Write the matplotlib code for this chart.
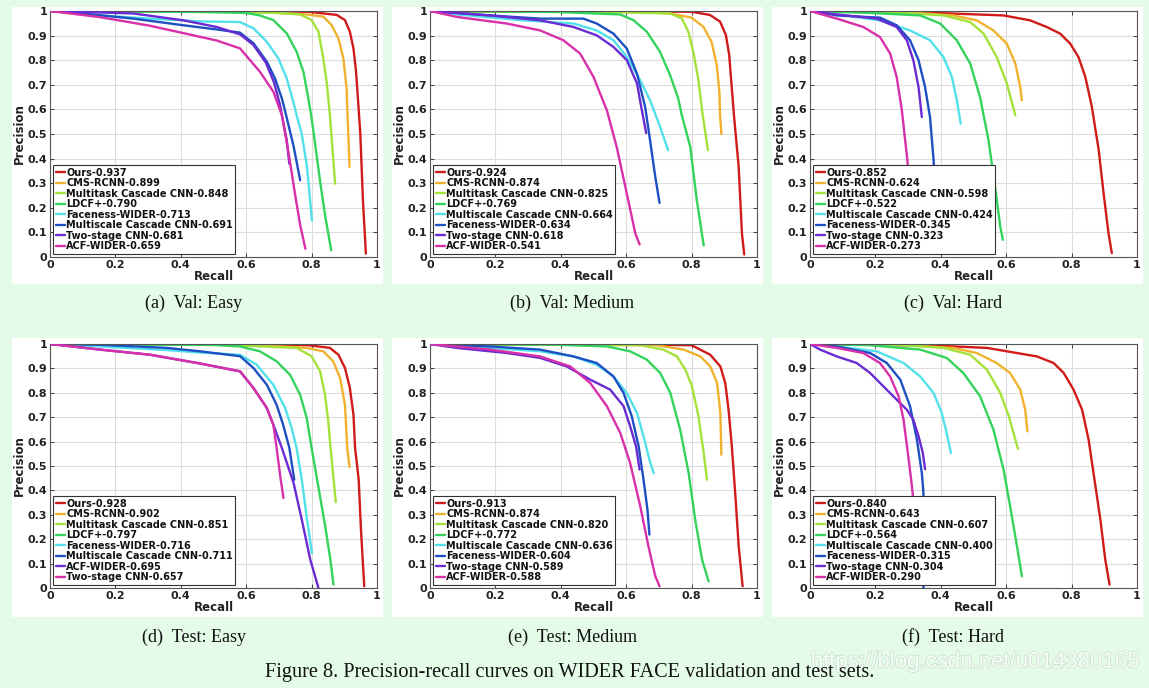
import matplotlib
matplotlib.use("Agg")
import matplotlib.pyplot as plt
from matplotlib.ticker import FuncFormatter, MultipleLocator
from matplotlib.patches import Rectangle
import matplotlib.patheffects as pe

BG = "#e4fbe8"
COLORS = ["#d11a1a", "#f0b22e", "#a4e23a", "#33d35c", "#52e0ea", "#1d4fc2", "#6a2bd2", "#d830a8"]

# ---------------- (a) Val: Easy ----------------
ve_labels = ["Ours-0.937", "CMS-RCNN-0.899", "Multitask Cascade CNN-0.848", "LDCF+-0.790",
             "Faceness-WIDER-0.713", "Multiscale Cascade CNN-0.691", "Two-stage CNN-0.681", "ACF-WIDER-0.659"]
ve_ours = [(0, 1), (0.6, 0.999), (0.79, 0.997), (0.877, 0.984), (0.902, 0.963), (0.917, 0.916), (0.928, 0.848),
           (0.936, 0.753), (0.943, 0.618), (0.949, 0.50), (0.957, 0.23), (0.966, 0.014)]
ve_cms = [(0, 1), (0.6, 0.998), (0.785, 0.986), (0.836, 0.977), (0.861, 0.943), (0.882, 0.889),
          (0.897, 0.808), (0.907, 0.686), (0.91, 0.577), (0.916, 0.366)]
ve_mtcnn = [(0, 1), (0.5, 0.998), (0.7, 0.992), (0.765, 0.986), (0.80, 0.963), (0.821, 0.916),
            (0.834, 0.821), (0.846, 0.713), (0.856, 0.577), (0.872, 0.298)]
ve_ldcf = [(0, 1), (0.459, 0.996), (0.6, 0.992), (0.642, 0.982), (0.683, 0.963), (0.724, 0.909),
           (0.754, 0.835), (0.775, 0.753), (0.79, 0.645), (0.801, 0.556), (0.827, 0.298), (0.842, 0.163),
           (0.86, 0.027)]
ve_faceness = [(0, 1), (0.153, 0.982), (0.306, 0.969), (0.459, 0.958), (0.581, 0.955), (0.622, 0.93),
               (0.663, 0.875), (0.698, 0.808), (0.724, 0.726), (0.744, 0.631), (0.754, 0.577), (0.77, 0.50),
               (0.786, 0.366), (0.801, 0.149)]
ve_multiscale = [(0, 1), (0.1, 0.99), (0.255, 0.969), (0.408, 0.942), (0.51, 0.925), (0.581, 0.912),
                 (0.622, 0.869), (0.663, 0.794), (0.688, 0.726), (0.709, 0.645), (0.722, 0.577),
                 (0.745, 0.45), (0.765, 0.312)]
ve_twostage = [(0, 1), (0.255, 0.99), (0.408, 0.962), (0.51, 0.935), (0.581, 0.905), (0.622, 0.862),
               (0.66, 0.79), (0.685, 0.71), (0.703, 0.62), (0.716, 0.53), (0.724, 0.474), (0.732, 0.379)]
ve_acf = [(0, 1), (0.153, 0.975), (0.306, 0.94), (0.408, 0.91), (0.51, 0.88), (0.581, 0.848),
          (0.642, 0.753), (0.683, 0.672), (0.709, 0.577), (0.73, 0.42), (0.75, 0.25), (0.765, 0.13),
          (0.781, 0.034)]

# ---------------- (b) Val: Medium ----------------
vm_labels = ["Ours-0.924", "CMS-RCNN-0.874", "Multitask Cascade CNN-0.825", "LDCF+-0.769",
             "Multiscale Cascade CNN-0.664", "Faceness-WIDER-0.634", "Two-stage CNN-0.618", "ACF-WIDER-0.541"]
vm_ours = [(0, 1), (0.6, 0.999), (0.8, 0.997), (0.856, 0.984), (0.887, 0.957), (0.905, 0.902),
           (0.915, 0.821), (0.923, 0.686), (0.93, 0.569), (0.944, 0.366), (0.954, 0.095), (0.961, 0.01)]
vm_cms = [(0, 1), (0.6, 0.997), (0.734, 0.99), (0.80, 0.973), (0.836, 0.936), (0.861, 0.875),
          (0.877, 0.78), (0.885, 0.672), (0.887, 0.577), (0.891, 0.50)]
vm_mtcnn = [(0, 1), (0.5, 0.997), (0.734, 0.99), (0.77, 0.97), (0.79, 0.916), (0.805, 0.835),
            (0.82, 0.726), (0.834, 0.577), (0.85, 0.434)]
vm_ldcf = [(0, 1), (0.388, 0.996), (0.581, 0.986), (0.622, 0.963), (0.663, 0.916), (0.703, 0.835),
           (0.734, 0.74), (0.759, 0.645), (0.77, 0.577), (0.796, 0.447), (0.816, 0.23), (0.837, 0.047)]
vm_multiscale = [(0, 1), (0.082, 0.986), (0.286, 0.962), (0.439, 0.949), (0.51, 0.921), (0.561, 0.881),
                 (0.602, 0.813), (0.643, 0.718), (0.673, 0.637), (0.704, 0.528), (0.728, 0.434)]
vm_faceness = [(0, 1), (0.184, 0.982), (0.337, 0.969), (0.469, 0.969), (0.51, 0.949), (0.561, 0.908),
               (0.602, 0.847), (0.633, 0.745), (0.658, 0.61), (0.673, 0.474), (0.689, 0.325), (0.702, 0.22)]
vm_twostage = [(0, 1), (0.184, 0.982), (0.337, 0.962), (0.439, 0.935), (0.51, 0.901), (0.561, 0.854),
               (0.602, 0.80), (0.633, 0.705), (0.648, 0.596), (0.661, 0.504)]
vm_acf = [(0, 1), (0.082, 0.976), (0.235, 0.949), (0.337, 0.921), (0.408, 0.881), (0.459, 0.827),
          (0.5, 0.732), (0.541, 0.596), (0.571, 0.447), (0.602, 0.257), (0.628, 0.095), (0.641, 0.051)]

# ---------------- (c) Val: Hard ----------------
vh_labels = ["Ours-0.852", "CMS-RCNN-0.624", "Multitask Cascade CNN-0.598", "LDCF+-0.522",
             "Multiscale Cascade CNN-0.424", "Faceness-WIDER-0.345", "Two-stage CNN-0.323", "ACF-WIDER-0.273"]
vh_ours = [(0, 1), (0.184, 0.996), (0.388, 0.992), (0.592, 0.982), (0.673, 0.962), (0.724, 0.935),
           (0.765, 0.908), (0.796, 0.867), (0.821, 0.813), (0.842, 0.732), (0.862, 0.61), (0.883, 0.434),
           (0.898, 0.257), (0.913, 0.095), (0.923, 0.016)]
vh_cms = [(0, 1), (0.286, 0.996), (0.439, 0.982), (0.51, 0.962), (0.561, 0.921), (0.602, 0.867),
          (0.628, 0.786), (0.643, 0.69), (0.648, 0.637)]
vh_mtcnn = [(0, 1), (0.286, 0.992), (0.408, 0.982), (0.49, 0.955), (0.531, 0.908), (0.571, 0.813),
            (0.602, 0.705), (0.628, 0.576)]
vh_ldcf = [(0, 1), (0.184, 0.992), (0.337, 0.982), (0.398, 0.949), (0.449, 0.881), (0.49, 0.786),
           (0.52, 0.65), (0.546, 0.474), (0.566, 0.285), (0.582, 0.122), (0.59, 0.07)]
vh_multiscale = [(0, 1), (0.082, 0.986), (0.214, 0.962), (0.306, 0.921), (0.367, 0.881), (0.408, 0.813),
                 (0.434, 0.732), (0.449, 0.637), (0.461, 0.542)]
vh_faceness = [(0, 1), (0.082, 0.982), (0.214, 0.973), (0.265, 0.942), (0.306, 0.881), (0.332, 0.80),
               (0.352, 0.69), (0.367, 0.569), (0.378, 0.393), (0.386, 0.2)]
vh_twostage = [(0, 1), (0.082, 0.986), (0.204, 0.969), (0.265, 0.935), (0.296, 0.881), (0.316, 0.80),
               (0.332, 0.69), (0.342, 0.569)]
vh_acf = [(0, 1), (0.082, 0.969), (0.163, 0.935), (0.214, 0.894), (0.245, 0.827), (0.265, 0.732),
          (0.281, 0.596), (0.291, 0.474), (0.298, 0.393), (0.305, 0.2)]

# ---------------- (d) Test: Easy ----------------
te_labels = ["Ours-0.928", "CMS-RCNN-0.902", "Multitask Cascade CNN-0.851", "LDCF+-0.797",
             "Faceness-WIDER-0.716", "Multiscale Cascade CNN-0.711", "ACF-WIDER-0.695", "Two-stage CNN-0.657"]
te_ours = [(0, 1), (0.6, 0.999), (0.79, 0.995), (0.856, 0.984), (0.882, 0.956), (0.902, 0.902),
           (0.917, 0.82), (0.928, 0.71), (0.933, 0.574), (0.944, 0.444), (0.951, 0.239), (0.961, 0.007)]
te_cms = [(0, 1), (0.6, 0.998), (0.785, 0.984), (0.836, 0.97), (0.866, 0.929), (0.887, 0.861),
          (0.902, 0.751), (0.909, 0.574), (0.916, 0.496)]
te_mtcnn = [(0, 1), (0.5, 0.998), (0.754, 0.984), (0.80, 0.95), (0.826, 0.888), (0.841, 0.792),
            (0.851, 0.683), (0.858, 0.574), (0.874, 0.352)]
te_ldcf = [(0, 1), (0.5, 0.996), (0.581, 0.99), (0.642, 0.97), (0.693, 0.929), (0.734, 0.874),
           (0.765, 0.792), (0.785, 0.697), (0.80, 0.574), (0.82, 0.42), (0.842, 0.25), (0.857, 0.12),
           (0.867, 0.014)]
te_faceness = [(0, 1), (0.153, 0.99), (0.357, 0.975), (0.459, 0.965), (0.581, 0.956), (0.632, 0.915),
               (0.683, 0.833), (0.719, 0.738), (0.739, 0.656), (0.754, 0.574), (0.77, 0.444), (0.786, 0.28),
               (0.801, 0.143)]
te_multiscale = [(0, 1), (0.153, 0.997), (0.357, 0.984), (0.459, 0.97), (0.581, 0.95), (0.622, 0.902),
                 (0.663, 0.833), (0.693, 0.751), (0.713, 0.669), (0.732, 0.574), (0.747, 0.444)]
te_acf = [(0, 1), (0.153, 0.977), (0.306, 0.956), (0.459, 0.92), (0.581, 0.888), (0.622, 0.82),
          (0.663, 0.738), (0.683, 0.669), (0.709, 0.574), (0.745, 0.43), (0.77, 0.28), (0.796, 0.116),
          (0.821, 0.0)]
te_twostage = [(0, 1), (0.153, 0.977), (0.306, 0.956), (0.459, 0.92), (0.581, 0.888), (0.622, 0.82),
               (0.663, 0.738), (0.683, 0.669), (0.693, 0.574), (0.705, 0.45), (0.714, 0.369)]

# ---------------- (e) Test: Medium ----------------
tm_labels = ["Ours-0.913", "CMS-RCNN-0.874", "Multitask Cascade CNN-0.820", "LDCF+-0.772",
             "Multiscale Cascade CNN-0.636", "Faceness-WIDER-0.604", "Two-stage CNN-0.589", "ACF-WIDER-0.588"]
tm_ours = [(0, 1), (0.6, 0.998), (0.8, 0.995), (0.816, 0.984), (0.857, 0.956), (0.888, 0.908),
           (0.903, 0.84), (0.913, 0.731), (0.923, 0.581), (0.934, 0.376), (0.944, 0.171), (0.956, 0.007)]
tm_cms = [(0, 1), (0.694, 0.995), (0.776, 0.977), (0.827, 0.949), (0.857, 0.908), (0.878, 0.84),
          (0.888, 0.717), (0.891, 0.546)]
tm_mtcnn = [(0, 1), (0.643, 0.995), (0.714, 0.977), (0.755, 0.949), (0.781, 0.895), (0.801, 0.827),
            (0.821, 0.704), (0.837, 0.553), (0.847, 0.444)]
tm_ldcf = [(0, 1), (0.388, 0.997), (0.541, 0.99), (0.612, 0.97), (0.663, 0.936), (0.704, 0.881),
           (0.735, 0.799), (0.765, 0.649), (0.791, 0.471), (0.811, 0.28), (0.832, 0.116), (0.852, 0.027)]
tm_multiscale = [(0, 1), (0.184, 0.984), (0.337, 0.97), (0.439, 0.949), (0.51, 0.915), (0.561, 0.867),
                 (0.602, 0.799), (0.633, 0.717), (0.653, 0.622), (0.671, 0.526), (0.684, 0.471)]
tm_faceness = [(0, 1), (0.184, 0.99), (0.337, 0.977), (0.439, 0.949), (0.51, 0.922), (0.561, 0.867),
               (0.592, 0.799), (0.617, 0.704), (0.638, 0.581), (0.653, 0.444), (0.665, 0.321), (0.671, 0.219)]
tm_twostage = [(0, 1), (0.082, 0.984), (0.235, 0.963), (0.337, 0.943), (0.418, 0.908), (0.49, 0.854),
               (0.551, 0.813), (0.592, 0.745), (0.612, 0.663), (0.63, 0.581), (0.641, 0.485)]
tm_acf = [(0, 1), (0.184, 0.977), (0.337, 0.949), (0.429, 0.908), (0.49, 0.84), (0.541, 0.745),
          (0.582, 0.635), (0.612, 0.512), (0.643, 0.335), (0.668, 0.171), (0.689, 0.048), (0.702, 0.007)]

# ---------------- (f) Test: Hard ----------------
th_labels = ["Ours-0.840", "CMS-RCNN-0.643", "Multitask Cascade CNN-0.607", "LDCF+-0.564",
             "Multiscale Cascade CNN-0.400", "Faceness-WIDER-0.315", "Two-stage CNN-0.304", "ACF-WIDER-0.290"]
th_ours = [(0, 1), (0.184, 0.997), (0.388, 0.993), (0.541, 0.984), (0.633, 0.963), (0.694, 0.949),
           (0.745, 0.922), (0.776, 0.881), (0.806, 0.813), (0.832, 0.731), (0.852, 0.608), (0.867, 0.471),
           (0.888, 0.28), (0.903, 0.116), (0.916, 0.014)]
th_cms = [(0, 1), (0.286, 0.995), (0.439, 0.984), (0.51, 0.963), (0.571, 0.922), (0.612, 0.881),
          (0.643, 0.813), (0.658, 0.731), (0.665, 0.642)]
th_mtcnn = [(0, 1), (0.286, 0.995), (0.408, 0.984), (0.49, 0.956), (0.541, 0.895), (0.582, 0.799),
            (0.608, 0.704), (0.628, 0.608), (0.636, 0.57)]
th_ldcf = [(0, 1), (0.184, 0.995), (0.337, 0.977), (0.418, 0.943), (0.469, 0.881), (0.52, 0.786),
           (0.561, 0.649), (0.592, 0.485), (0.612, 0.335), (0.633, 0.171), (0.648, 0.048)]
th_multiscale = [(0, 1), (0.082, 0.99), (0.204, 0.97), (0.286, 0.922), (0.337, 0.867), (0.378, 0.799),
                 (0.403, 0.717), (0.418, 0.635), (0.431, 0.553)]
th_faceness = [(0, 1), (0.082, 0.99), (0.184, 0.963), (0.235, 0.922), (0.276, 0.854), (0.306, 0.745),
               (0.327, 0.608), (0.342, 0.471), (0.347, 0.389), (0.347, 0.0)]
th_twostage = [(0, 1), (0.031, 0.977), (0.082, 0.949), (0.143, 0.922), (0.184, 0.881), (0.224, 0.827),
               (0.265, 0.772), (0.296, 0.731), (0.316, 0.69), (0.332, 0.622), (0.345, 0.553), (0.352, 0.487)]
th_acf = [(0, 1), (0.082, 0.984), (0.163, 0.963), (0.214, 0.922), (0.245, 0.867), (0.271, 0.786),
          (0.286, 0.69), (0.298, 0.567), (0.308, 0.458), (0.314, 0.389), (0.32, 0.2)]

PANELS = [
    ("(a)  Val: Easy", ve_labels, [ve_ours, ve_cms, ve_mtcnn, ve_ldcf, ve_faceness, ve_multiscale, ve_twostage, ve_acf]),
    ("(b)  Val: Medium", vm_labels, [vm_ours, vm_cms, vm_mtcnn, vm_ldcf, vm_multiscale, vm_faceness, vm_twostage, vm_acf]),
    ("(c)  Val: Hard", vh_labels, [vh_ours, vh_cms, vh_mtcnn, vh_ldcf, vh_multiscale, vh_faceness, vh_twostage, vh_acf]),
    ("(d)  Test: Easy", te_labels, [te_ours, te_cms, te_mtcnn, te_ldcf, te_faceness, te_multiscale, te_acf, te_twostage]),
    ("(e)  Test: Medium", tm_labels, [tm_ours, tm_cms, tm_mtcnn, tm_ldcf, tm_multiscale, tm_faceness, tm_twostage, tm_acf]),
    ("(f)  Test: Hard", th_labels, [th_ours, th_cms, th_mtcnn, th_ldcf, th_multiscale, th_faceness, th_twostage, th_acf]),
]

W, H = 1149, 688
fig = plt.figure(figsize=(W / 100, H / 100), dpi=100)
fig.patch.set_facecolor(BG)

col_left = [50, 430, 810]
title_cx = [193.5, 572.5, 953.5]
row_top = [11, 344]
row_bot = [257, 588]
white_top = [7, 338]
white_bot = [284, 617]
title_y = [303, 637]
ax_w = 327

def fmt(v, _):
    return "%g" % round(v, 2)

for i, (title, labels, curves) in enumerate(PANELS):
    r, c = divmod(i, 3)
    x0 = col_left[c]
    wl = x0 - 38
    bgr = Rectangle((wl / W, 1 - white_bot[r] / H), (ax_w + 44) / W,
                    (white_bot[r] - white_top[r]) / H, transform=fig.transFigure,
                    facecolor="white", edgecolor="none", zorder=-10)
    fig.add_artist(bgr)
    ax = fig.add_axes([x0 / W, 1 - row_bot[r] / H, ax_w / W, (row_bot[r] - row_top[r]) / H])
    ax.set_zorder(1)
    ax.set_facecolor("white")
    for k, (pts, lab) in enumerate(zip(curves, labels)):
        xs = [p[0] for p in pts]
        ys = [p[1] for p in pts]
        ax.plot(xs, ys, color=COLORS[k], lw=1.7, label=lab, zorder=2 + k * 0.1,
                solid_joinstyle="round", solid_capstyle="round")
    ax.set_xlim(0, 1)
    ax.set_ylim(0, 1)
    ax.xaxis.set_major_locator(MultipleLocator(0.2))
    ax.yaxis.set_major_locator(MultipleLocator(0.1))
    ax.xaxis.set_major_formatter(FuncFormatter(fmt))
    ax.yaxis.set_major_formatter(FuncFormatter(fmt))
    ax.grid(True, color="#dcdcdc", lw=0.8)
    ax.set_axisbelow(True)
    ax.tick_params(direction="in", length=3, width=0.6, top=True, right=True, pad=2,
                   labelsize=8, colors="#222222")
    for lbl in ax.get_xticklabels() + ax.get_yticklabels():
        lbl.set_fontweight("bold")
    for s in ax.spines.values():
        s.set_color("#555555")
        s.set_linewidth(0.8)
    ax.set_xlabel("Recall", fontsize=8.5, fontweight="bold", labelpad=0, color="#222222")
    ax.set_ylabel("Precision", fontsize=8.5, fontweight="bold", labelpad=1, color="#222222")
    leg = ax.legend(loc="lower left", prop={"weight": "bold", "size": 7.0},
                    handlelength=0.9, handletextpad=0.15, labelspacing=0.05, borderpad=0.25,
                    borderaxespad=0.35, frameon=True, fancybox=False, framealpha=1)
    leg.get_frame().set_edgecolor("#333333")
    leg.get_frame().set_linewidth(0.8)
    leg.set_zorder(10)
    for t in leg.get_texts():
        t.set_color("#111111")
    fig.text(title_cx[c] / W, 1 - title_y[r] / H, title, ha="center", va="center",
             fontsize=13, family="Liberation Serif", color="#111111")

fig.text(570 / W, 1 - 672 / H, "Figure 8. Precision-recall curves on WIDER FACE validation and test sets.",
         ha="center", va="center", fontsize=14.6, family="Liberation Serif", color="#111111")
wm = fig.text(1140 / W, 1 - 662 / H, "https://blog.csdn.net/u014380165", ha="right", va="center",
              fontsize=16, family="Liberation Sans", color="#f6fff8", zorder=-1)
wm.set_path_effects([pe.withStroke(linewidth=1.2, foreground="#cfe0d3")])

fig.savefig("out.png", dpi=100, facecolor=BG)
